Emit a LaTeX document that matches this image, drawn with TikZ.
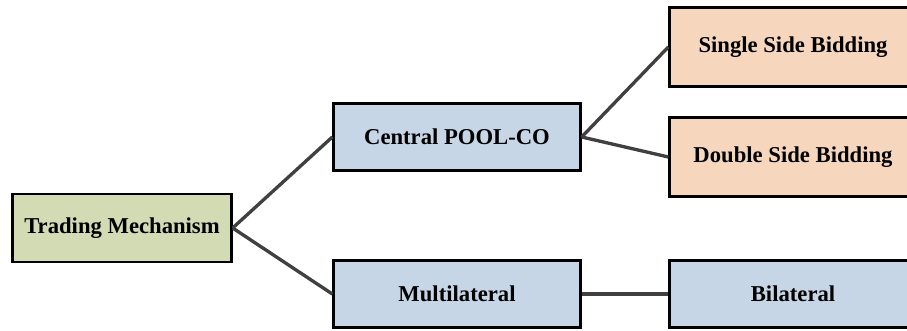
\documentclass[tikz,border=0pt]{standalone}
\usepackage{fontspec}
\setmainfont{Liberation Serif}
\usetikzlibrary{positioning}
\definecolor{mechgreen}{RGB}{211,219,180}
\definecolor{poolblue}{RGB}{198,214,230}
\definecolor{bidorange}{RGB}{246,214,188}
\definecolor{lijngrijs}{RGB}{64,64,64}

\begin{document}
\begin{tikzpicture}[x=0.75pt,y=-0.75pt]
\tikzstyle{veld} = [draw, line width=2pt, font=\bfseries\fontsize{17}{20}\selectfont, inner sep=0pt, minimum width=185pt, minimum height=50pt]
\tikzstyle{lijn} = [draw=lijngrijs, line width=2.5pt]

\useasboundingbox (0,0) rectangle (907,331);

\node [veld, fill=mechgreen, minimum width=164pt, minimum height=51pt] (mechanism) at (122,228) {Trading Mechanism};

\node [veld, fill=poolblue] (poolco) at (457,137) {Central POOL-CO};
\draw [lijn] (mechanism.east) -- (poolco.west);

\node [veld, fill=poolblue] (multi) at (457,294) {Multilateral};
\draw [lijn] (mechanism.east) -- (multi.west);

\node [veld, fill=bidorange, minimum height=59pt] (single) at (793,47) {Single Side Bidding};
\draw [lijn] (poolco.east) -- (single.west);

\node [veld, fill=bidorange, minimum height=59pt] (double) at (793,157) {Double Side Bidding};
\draw [lijn] (poolco.east) -- (double.west);

\node [veld, fill=poolblue] (bilateral) at (793,294) {Bilateral};
\draw [lijn] (multi) -- (bilateral);

\end{tikzpicture}
\end{document}
